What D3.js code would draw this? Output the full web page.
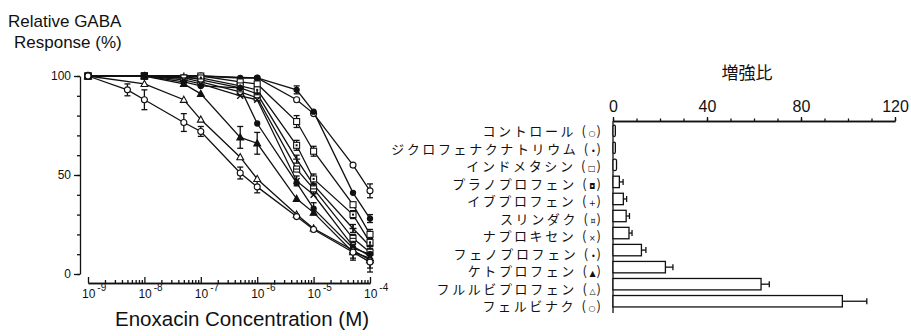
<!DOCTYPE html>
<html>
<head>
<meta charset="utf-8">
<script src="https://cdn.jsdelivr.net/npm/d3@7"></script>
<style>
  body { margin: 0; background: #fff; }
  svg { display: block; }
  text { fill: #111; }
</style>
</head>
<body>
<div id="chart"></div>
<script>
// ---- data ----
const concentrations = [1e-9, 5e-9, 1e-8, 5e-8, 1e-7, 5e-7, 1e-6, 5e-6, 1e-5, 5e-5, 1e-4];
const xTickExponents = [-9, -8, -7, -6, -5, -4];
const yTicks = [0, 50, 100];

const drugNames = ["コントロール", "ジクロフェナクナトリウム", "インドメタシン", "プラノプロフェン",
  "イブプロフェン", "スリンダク", "ナプロキセン", "フェノプロフェン", "ケトプロフェン",
  "フルルビプロフェン", "フェルビナク"];
const drugMarkers = ["○", "•", "□", "◘", "+", "¤", "×", "•", "▲", "△", "○"];
const markerShapes = ["circle", "dot", "square", "square2", "plus", "square3", "cross", "dot", "triFill", "tri", "circle"];

// Relative GABA response (%) at each concentration, null = not measured
const respControl     = [100, null, 100, null, 100, null, 99, 88, 81, 55, 42];
const respDiclofenac  = [100, null, 100, null, 100, 99, 99, 93, 82, 41, 28];
const respIndometacin = [100, null, 100, null, 100, 97, 96, 77, 62, 35, 20];
const respPranoprofen = [100, null, 100, 99, 99, 95, 93, 65, 48, 30, 16];
const respIbuprofen   = [100, null, 100, 100, 98, 94, 91, 58, 45, 23, 14];
const respSulindac    = [100, null, 100, 99, 97, 92, 89, 53, 43, 18, 11];
const respNaproxen    = [100, null, 100, 98, 96, 90, 88, 47, 40, 14, 9];
const respFenoprofen  = [100, null, 100, 97, 95, 94, 76, 46, 33, 13, 10];
const respKetoprofen  = [100, null, 100, 96, 91, 69, 66, 38, 31, 11, 8];
const respFlurbiprofen= [100, null, 96, 88, 78, 59, 48, 30, 23, 12, 7];
const respFelbinac    = [100, 93, 88, 76.5, 72, 51, 44, 29, 22.5, 11, 6];

// error bar half widths (%), null = none drawn
const errControl      = [null, null, null, null, null, null, null, null, null, null, 3.5];
const errDiclofenac   = [null, null, null, null, null, null, null, 2, null, null, 2];
const errIndometacin  = [null, null, null, null, null, null, null, 3, 2.5, null, 2.5];
const errPranoprofen  = [null, null, null, null, null, null, null, 2.5, 2.5, 2, 2];
const errIbuprofen    = [null, null, null, null, null, null, null, 2, null, 2, null];
const errSulindac     = [null, null, null, null, null, null, null, null, 2.5, 2, null];
const errNaproxen     = [null, null, null, null, null, null, null, 2.5, null, null, null];
const errFenoprofen   = [null, null, null, null, null, null, null, null, 3, null, null];
const errKetoprofen   = [null, null, null, null, null, 5.5, 5.5, null, null, 4, 5];
const errFlurbiprofen = [null, null, null, null, null, null, null, null, null, null, null];
const errFelbinac     = [null, 3, 5, 4.5, 2.5, 3, 3, null, null, 3, 5];

// enhancement ratio (bar chart) and SEM
const ratioValues = [1, 1, 1.5, 2.7, 4.4, 5.6, 6.8, 12.1, 22.3, 63, 97.6];
const ratioErrors = [0, 0, 0, 1.6, 1.4, 1.4, 1.3, 1.9, 3.2, 3.5, 10.4];
const ratioTicks = [0, 40, 80, 120];

const responses = [respControl, respDiclofenac, respIndometacin, respPranoprofen, respIbuprofen,
  respSulindac, respNaproxen, respFenoprofen, respKetoprofen, respFlurbiprofen, respFelbinac];
const errors = [errControl, errDiclofenac, errIndometacin, errPranoprofen, errIbuprofen,
  errSulindac, errNaproxen, errFenoprofen, errKetoprofen, errFlurbiprofen, errFelbinac];

// ---- layout ----
const width = 911, height = 336;
const svg = d3.select("#chart").append("svg")
    .attr("width", width)
    .attr("height", height)
    .style("font-family", "'Liberation Sans', Arial, sans-serif");

// ===== left: concentration-response curves =====
let x = d3.scaleLog().domain([1e-9, 1e-4]).range([88, 370]);
let y = d3.scaleLinear().domain([0, 100]).range([274, 76]);

svg.append("text").attr("x", 8).attr("y", 27).style("font-size", "17px").text("Relative GABA");
svg.append("text").attr("x", 14).attr("y", 48).style("font-size", "17px").text("Response (%)");

// y axis
let yMinor = svg.append("g").attr("transform", "translate(80,0)")
    .call(d3.axisLeft(y).tickValues(d3.range(0, 101, 10)).tickSize(3).tickSizeOuter(0).tickFormat(""));
let yMajor = svg.append("g").attr("transform", "translate(80,0)")
    .call(d3.axisLeft(y).tickValues(yTicks).tickSize(6).tickSizeOuter(0).tickPadding(3));
yMajor.select(".domain").remove();
yMajor.selectAll("text").style("font-size", "12px").style("font-family", "'Liberation Sans', Arial, sans-serif");
svg.selectAll(".domain, .tick line").attr("stroke", "#111").attr("stroke-width", 1.3);

// x axis (ticks point up)
let minorTicks = [];
for (let e = -9; e < -4; e++) for (let m = 2; m <= 9; m++) minorTicks.push(m * Math.pow(10, e));
let xAxisG = svg.append("g").attr("transform", "translate(0,283)");
xAxisG.append("g").call(d3.axisTop(x).tickValues(minorTicks).tickSize(3).tickSizeOuter(0).tickFormat(""));
xAxisG.append("g").call(d3.axisTop(x).tickValues(xTickExponents.map(function(e) { return Math.pow(10, e); }))
    .tickSize(6).tickSizeOuter(0).tickFormat(""));
xAxisG.selectAll(".domain, .tick line").attr("stroke", "#111").attr("stroke-width", 1.3);

let xLabels = svg.append("g").selectAll("text").data(xTickExponents).enter()
    .append("text")
    .attr("x", function(d) { return x(Math.pow(10, d)) - 6; })
    .attr("y", 298)
    .style("font-size", "12px");
xLabels.append("tspan").text("10");
xLabels.append("tspan").attr("dx", 2).attr("dy", -7).style("font-size", "10px").text(function(d) { return "-" + (-d); });

svg.append("text").attr("x", 115).attr("y", 326).style("font-size", "20.5px")
    .text("Enoxacin Concentration (M)");

// curves
let curves = svg.append("g");
let line = d3.line()
    .defined(function(d) { return d.v != null; })
    .x(function(d) { return x(d.c); })
    .y(function(d) { return y(d.v); });

let seriesData = responses.map(function(vals, i) {
  return concentrations.map(function(c, j) { return {c: c, v: vals[j], e: errors[i][j], s: markerShapes[i]}; })
      .filter(function(d) { return d.v != null; });
});

seriesData.forEach(function(pts) {
  curves.append("path").datum(pts)
      .attr("fill", "none").attr("stroke", "#111").attr("stroke-width", 1.3)
      .attr("d", line);
});

// error bars
seriesData.forEach(function(pts) {
  pts.filter(function(d) { return d.e; }).forEach(function(d) {
    let g = curves.append("g").attr("stroke", "#111").attr("stroke-width", 1.3);
    let cx = x(d.c);
    g.append("line").attr("x1", cx).attr("x2", cx).attr("y1", y(d.v - d.e)).attr("y2", y(d.v + d.e));
    g.append("line").attr("x1", cx - 3).attr("x2", cx + 3).attr("y1", y(d.v - d.e)).attr("y2", y(d.v - d.e));
    g.append("line").attr("x1", cx - 3).attr("x2", cx + 3).attr("y1", y(d.v + d.e)).attr("y2", y(d.v + d.e));
  });
});

// markers
function drawMarker(g, shape) {
  let r = 3;
  if (shape === "circle") g.append("circle").attr("r", r).attr("fill", "#fff").attr("stroke", "#111");
  else if (shape === "dot") g.append("circle").attr("r", 2.6).attr("fill", "#111").attr("stroke", "#111");
  else if (shape === "square" || shape === "square2" || shape === "square3") {
    g.append("rect").attr("x", -r).attr("y", -r).attr("width", 2 * r).attr("height", 2 * r)
        .attr("fill", "#fff").attr("stroke", "#111");
    if (shape === "square2") g.append("rect").attr("x", -1).attr("y", -1).attr("width", 2).attr("height", 2).attr("fill", "#111");
    if (shape === "square3") g.append("line").attr("x1", -r).attr("x2", r).attr("y1", 0).attr("y2", 0).attr("stroke", "#111");
  }
  else if (shape === "plus") g.append("path").attr("d", "M-3.5,0H3.5M0,-3.5V3.5").attr("stroke", "#111").attr("stroke-width", 1.4);
  else if (shape === "cross") g.append("path").attr("d", "M-3,-3L3,3M-3,3L3,-3").attr("stroke", "#111").attr("stroke-width", 1.4);
  else if (shape === "triFill") g.append("path").attr("d", "M0,-3.6L3.4,2.6H-3.4Z").attr("fill", "#111").attr("stroke", "#111");
  else if (shape === "tri") g.append("path").attr("d", "M0,-3.6L3.4,2.6H-3.4Z").attr("fill", "#fff").attr("stroke", "#111");
}
seriesData.forEach(function(pts) {
  pts.forEach(function(d) {
    let g = curves.append("g").attr("transform", `translate(${x(d.c)},${y(d.v)})`).attr("stroke-width", 1.1);
    drawMarker(g, d.s);
  });
});

// ===== right: enhancement ratio bars =====
let xr = d3.scaleLinear().domain([0, 120]).range([613, 895]);
let yb = d3.scaleBand().domain(drugNames).range([122.5, 309.5]).paddingInner(0.33).paddingOuter(0.15);
let yl = d3.scalePoint().domain(drugNames).range([131, 306]);

svg.append("text").attr("x", 747).attr("y", 79).attr("text-anchor", "middle")
    .style("font-family", "'Noto Sans CJK JP', sans-serif").style("font-size", "17px").text("増強比");

let topAxis = svg.append("g").attr("transform", "translate(0,121)");
topAxis.append("g").call(d3.axisTop(xr).tickValues(d3.range(0, 121, 10)).tickSize(2.5).tickSizeOuter(0).tickFormat(""));
let topMajor = topAxis.append("g").call(d3.axisTop(xr).tickValues(ratioTicks).tickSize(4).tickSizeOuter(0).tickPadding(5));
topMajor.selectAll("text").style("font-size", "16px").style("font-family", "'Liberation Sans', Arial, sans-serif");
topAxis.selectAll(".domain, .tick line").attr("stroke", "#111").attr("stroke-width", 1.3);

svg.append("line").attr("x1", xr(0)).attr("x2", xr(0)).attr("y1", 121).attr("y2", 313)
    .attr("stroke", "#111").attr("stroke-width", 1.3);

let labels = svg.append("g").selectAll("text").data(drugNames).enter()
    .append("text")
    .attr("x", 601)
    .attr("y", function(d) { return yl(d) + 5; })
    .attr("text-anchor", "end")
    .style("font-family", "'Noto Sans CJK JP', sans-serif")
    .style("font-size", "13px")
    .style("letter-spacing", "2.6px");
labels.append("tspan").text(function(d) { return d + " ("; });
labels.append("tspan").style("font-size", "8px").style("letter-spacing", "1px")
    .style("font-family", "'DejaVu Sans', sans-serif")
    .text(function(d, i) { return drugMarkers[i]; });
labels.append("tspan").style("letter-spacing", "0px").text(")");

let bars = svg.append("g").selectAll("rect").data(drugNames).enter()
    .append("rect")
    .attr("x", xr(0))
    .attr("y", function(d) { return yb(d); })
    .attr("width", function(d, i) { return Math.max(1.5, xr(ratioValues[i]) - xr(0)); })
    .attr("height", yb.bandwidth())
    .attr("rx", function(d, i) { return ratioValues[i] < 2 ? 1.5 : 0; })
    .attr("fill", "#fff")
    .attr("stroke", "#111")
    .attr("stroke-width", 1.3);

let errG = svg.append("g").attr("stroke", "#111").attr("stroke-width", 1.3);
drugNames.forEach(function(d, i) {
  if (!ratioErrors[i]) return;
  let cy = yb(d) + yb.bandwidth() / 2;
  let x1 = xr(ratioValues[i]), x2 = xr(ratioValues[i] + ratioErrors[i]);
  errG.append("line").attr("x1", x1).attr("x2", x2).attr("y1", cy).attr("y2", cy);
  errG.append("line").attr("x1", x2).attr("x2", x2).attr("y1", cy - 3).attr("y2", cy + 3);
});
</script>
</body>
</html>
